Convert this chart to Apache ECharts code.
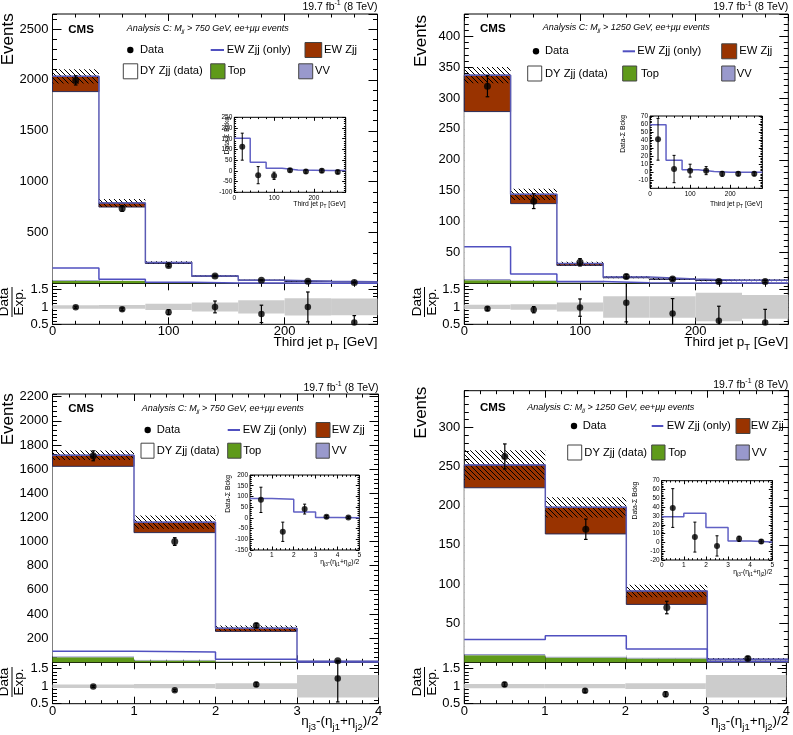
<!DOCTYPE html>
<html>
<head>
<meta charset="utf-8">
<script src="https://cdn.jsdelivr.net/npm/echarts@6.0.0/dist/echarts.min.js"></script>
<style>
html,body{margin:0;padding:0;background:#fff;}
#chart{width:793px;height:735px;}
</style>
</head>
<body>
<div id="chart"></div>
<script>
// ---------------- data ----------------
const ptEdges = [0, 40, 80, 120, 160, 200, 240, 280];
const etaEdges = [0, 1, 2, 3, 4];
const etaInsetEdges = [0, 1, 2, 3, 4, 5];

// Panel A: third jet pT, Mjj > 750 GeV
const aTop = [25, 22, 5, 2, 1, 0.5, 0.3];
const aVV = [8, 5, 2, 1, 0.5, 0.3, 0.2];
const aDY = [1852, 723, 188, 66, 27.5, 18.7, 13.5];
const aEW = [150, 40, 10, 4, 2, 0.5, 1];
const aBkgErr = [70, 40, 12, 6, 3, 3, 3];
const aData = [1995, 735, 176, 73, 30, 20, 8];
const aDataErr = [45, 27, 13, 8.5, 5.5, 4.5, 2.8];
const aRatio = [0.99, 0.93, 0.85, 1.0, 0.8, 1.0, 0.55];
const aRatioErr = [0.03, 0.04, 0.07, 0.17, 0.25, 0.43, 0.2];
const aRatioBand = [0.05, 0.055, 0.09, 0.13, 0.19, 0.25, 0.24];
const aInsEW = [152, 40, 12, 4, 3, 2, 2];
const aInsData = [113, -20, -23, 3, -3, 1, -5];
const aInsErr = [63, 40, 17, 8, 8, 8, 8];

// Panel B: third jet pT, Mjj > 1250 GeV
const bTop = [5, 4, 1, 0.5, 0.3, 0.2, 0.1];
const bVV = [2, 1, 0.5, 0.3, 0.2, 0.1, 0.1];
const bDY = [271, 124, 27.5, 8.2, 6, 4.4, 4.5];
const bEW = [59, 15, 3, 1, 0.5, 0.3, 0.3];
const bBkgErr = [13, 9, 3, 2, 1.5, 1.5, 1.5];
const bData = [319, 133, 34, 11, 7, 3, 3];
const bDataErr = [17, 12, 6, 3.3, 2.6, 1.7, 1.7];
const bRatio = [0.95, 0.92, 0.98, 1.12, 0.81, 0.6, 0.55];
const bRatioErr = [0.05, 0.09, 0.25, 0.55, 0.43, 0.42, 0.38];
const bRatioBand = [0.06, 0.08, 0.13, 0.31, 0.31, 0.41, 0.34];
const bInsEW = [59, 15, 3, 1, 0, 0, 0];
const bInsData = [41, 4, 2, 2, -2, -2, -2];
const bInsErr = [26, 17, 8, 5, 3, 2.5, 2.5];

// Panel C: eta_j3 - (eta_j1+eta_j2)/2, Mjj > 750 GeV
const cTop = [42, 15, 4, 0];
const cVV = [8, 6, 2, 0.2];
const cDY = [1573, 1053, 250, 6.3];
const cEW = [92, 86, 26, 1.5];
const cBkgErr = [40, 55, 22, 3];
const cData = [1710, 1000, 305, 12];
const cDataErr = [41, 32, 17, 3.5];
const cRatio = [0.99, 0.88, 1.05, 1.22];
const cRatioErr = [0.025, 0.03, 0.06, 0.67];
const cRatioBand = [0.05, 0.06, 0.08, 0.32];
const cInsEW = [90, 87, 27, 2, 1];
const cInsData = [84, -65, 41, 5, 2];
const cInsErr = [59, 45, 23, 6, 5];

// Panel D: eta_j3 - (eta_j1+eta_j2)/2, Mjj > 1250 GeV
const dTop = [9, 6, 5, 0];
const dVV = [1.5, 1.5, 1, 0.1];
const dDY = [212.5, 156.5, 68, 2.9];
const dEW = [29, 34, 17, 1];
const dBkgErr = [19, 13, 8, 1.5];
const dData = [263, 170, 70, 5];
const dDataErr = [16, 13, 8, 2.2];
const dRatio = [1.05, 0.87, 0.77, null];
const dRatioErr = [0.06, 0.05, 0.07, null];
const dRatioBand = [0.06, 0.06, 0.08, 0.32];
const dInsEW = [29, 33, 17, 1.5, 0.5];
const dInsData = [39, 6, -4, 4, 1];
const dInsErr = [22, 17, 11.5, 3, 2];

const panels = [
  {edges: ptEdges, top: aTop, vv: aVV, dy: aDY, ew: aEW, bkgErr: aBkgErr, data: aData, dataErr: aDataErr,
   ratio: aRatio, ratioErr: aRatioErr, band: aRatioBand, insEdges: ptEdges, insEW: aInsEW, insData: aInsData, insErr: aInsErr,
   kind: 'pt', mjj: '750'},
  {edges: ptEdges, top: bTop, vv: bVV, dy: bDY, ew: bEW, bkgErr: bBkgErr, data: bData, dataErr: bDataErr,
   ratio: bRatio, ratioErr: bRatioErr, band: bRatioBand, insEdges: ptEdges, insEW: bInsEW, insData: bInsData, insErr: bInsErr,
   kind: 'pt', mjj: '1250'},
  {edges: etaEdges, top: cTop, vv: cVV, dy: cDY, ew: cEW, bkgErr: cBkgErr, data: cData, dataErr: cDataErr,
   ratio: cRatio, ratioErr: cRatioErr, band: cRatioBand, insEdges: etaInsetEdges, insEW: cInsEW, insData: cInsData, insErr: cInsErr,
   kind: 'eta', mjj: '750'},
  {edges: etaEdges, top: dTop, vv: dVV, dy: dDY, ew: dEW, bkgErr: dBkgErr, data: dData, dataErr: dDataErr,
   ratio: dRatio, ratioErr: dRatioErr, band: dRatioBand, insEdges: etaInsetEdges, insEW: dInsEW, insData: dInsData, insErr: dInsErr,
   kind: 'eta', mjj: '1250'}
];

// ---------------- layout (pixels) ----------------
const layouts = [
  {L: 52.5, R: 377.5, T: 14, M: 283.3, B: 324.3, yMax: 2648, yMaj: 500, yMin2: 100, xMax: 280, xMaj: 100, xMin2: 20,
   ins: {l: 234.3, t: 117.3, r: 345.7, b: 192.3, yMin: -100, yMax: 250, yMaj: 50, yMin2: 10, showMinY: true},
   lumiY: 6.7, cms: [68.3, 30], ana: [126.7, 28.3], evX: 8, evTop: 13.3, xTitleY: 342.7, frac: [12, 302],
   insYT: [226.7, 116.7], insXTY: 204.3,
   leg: {r1: 50, r2: 71.3, dot: 130.3, dataT: 140, line: [210.7, 224], ewoT: 226.7, brown: [305, 321.7], ewT: 324,
         white: [123.3, 137.7], dyT: 140, green: [210.7, 225], topT: 227.7, purple: [298.7, 312.7], vvT: 315}},
  {L: 464.3, R: 788.3, T: 14, M: 283.3, B: 324.3, yMax: 436, yMaj: 50, yMin2: 10, xMax: 280, xMaj: 100, xMin2: 20,
   ins: {l: 650, t: 116, r: 762.3, b: 188.3, yMin: -20, yMax: 70, yMaj: 10, yMin2: 2, showMinY: false},
   lumiY: 7.3, cms: [480, 29.3], ana: [542.7, 27.3], evX: 421, evTop: 15, xTitleY: 342.7, frac: [424.5, 302],
   insYT: [622.7, 115], insXTY: 203.7,
   leg: {r1: 51.3, r2: 73.5, dot: 536, dataT: 545, line: [622.7, 635], ewoT: 637.3, brown: [721.7, 736.7], ewT: 739.3,
         white: [527.7, 541.7], dyT: 545, green: [622.7, 636.7], topT: 641, purple: [721.7, 735], vvT: 736.7}},
  {L: 52.5, R: 378.5, T: 394, M: 662.3, B: 703.7, yMax: 2222, yMaj: 200, yMin2: 40, xMax: 4, xMaj: 1, xMin2: 0.2,
   ins: {l: 250, t: 475, r: 359.3, b: 550, yMin: -150, yMax: 200, yMaj: 50, yMin2: 10, showMinY: true},
   lumiY: 388, cms: [68.3, 409.3], ana: [141.7, 408.3], evX: 8, evTop: 393.3, xTitleY: 721.7, frac: [12, 682],
   insYT: [228.3, 475], insXTY: 561.7,
   leg: {r1: 430, r2: 450.7, dot: 147.7, dataT: 156.7, line: [227.7, 240], ewoT: 242.7, brown: [316, 330], ewT: 331.7,
         white: [141, 154], dyT: 156.7, green: [227.7, 241], topT: 243.3, purple: [316, 329.3], vvT: 331.7}},
  {L: 464.3, R: 788.3, T: 390.7, M: 662.3, B: 703.7, yMax: 347, yMaj: 50, yMin2: 10, xMax: 4, xMaj: 1, xMin2: 0.2,
   ins: {l: 661.7, t: 480.7, r: 772.3, b: 560, yMin: -20, yMax: 70, yMaj: 10, yMin2: 2, showMinY: true},
   lumiY: 385, cms: [480, 408.3], ana: [527.3, 407.3], evX: 421, evTop: 386.7, xTitleY: 721.7, frac: [424.5, 682],
   insYT: [635, 481.7], insXTY: 571.7,
   leg: {r1: 426, r2: 452.5, dot: 574, dataT: 582.7, line: [651.7, 663.3], ewoT: 666.7, brown: [736, 750], ewT: 750.7,
         white: [567.7, 581.7], dyT: 584.3, green: [651.7, 665], topT: 668.3, purple: [736, 749.3], vvT: 751.7}}
];

// ---------------- styling ----------------
const FONT = '"Liberation Sans", Arial, Helvetica, sans-serif';
const C_EW = '#993300', C_TOP = '#5f9a1a', C_VV = '#9999cc', C_LINE = '#5050c0', C_OUT = '#5a5ab4', C_BAND = '#cccccc';

const hc = document.createElement('canvas');
hc.width = 5; hc.height = 5;
(function () {
  const g = hc.getContext('2d');
  g.strokeStyle = '#000'; g.lineWidth = 1;
  g.beginPath();
  g.moveTo(0, 0); g.lineTo(5, 5);
  g.moveTo(-5, 0); g.lineTo(5, 10);
  g.moveTo(0, -5); g.lineTo(10, 5);
  g.stroke();
})();
const FILLS = [C_TOP, C_VV, '#ffffff', C_EW, {image: hc, repeat: 'repeat'}, C_BAND];
const STROKES = [null, null, null, '#2a2a55', null, null];

const grids = [], xAxes = [], yAxes = [], series = [], graphics = [];

function numFmt(v) { return String(+(+v).toFixed(6)); }

function addGrid(l, t, w, h) {
  grids.push({left: l, top: t, width: w, height: h, show: true, borderColor: '#000', borderWidth: 1,
              backgroundColor: 'transparent', containLabel: false});
  return grids.length - 1;
}
function axis(gi, pos, r, interval, len, labelCfg) {
  return {
    type: 'value', gridIndex: gi, position: pos, min: r.min, max: r.max, interval: interval,
    axisLine: {show: false, onZero: false}, splitLine: {show: false}, minorTick: {show: false},
    axisTick: {show: true, inside: true, length: len, lineStyle: {color: '#000', width: 1}},
    axisLabel: labelCfg ? Object.assign({show: true, color: '#000', fontFamily: FONT, formatter: numFmt}, labelCfg) : {show: false},
    silent: true
  };
}
function addAxes(gi, xr, yr) {
  const xi = xAxes.length, yi = yAxes.length;
  xAxes.push(axis(gi, 'bottom', xr, xr.maj, xr.lenMaj, xr.label || null));
  xAxes.push(axis(gi, 'bottom', xr, xr.min2, xr.lenMin, null));
  xAxes.push(axis(gi, 'top', xr, xr.maj, xr.lenMaj, null));
  xAxes.push(axis(gi, 'top', xr, xr.min2, xr.lenMin, null));
  yAxes.push(axis(gi, 'left', yr, yr.maj, yr.lenMaj, yr.label || null));
  yAxes.push(axis(gi, 'left', yr, yr.min2, yr.lenMin, null));
  yAxes.push(axis(gi, 'right', yr, yr.maj, yr.lenMaj, null));
  yAxes.push(axis(gi, 'right', yr, yr.min2, yr.lenMin, null));
  return {xi: xi, yi: yi};
}

function rectRender(params, api) {
  const cs = params.coordSys;
  const a = api.coord([api.value(0), api.value(3)]);
  const b = api.coord([api.value(1), api.value(2)]);
  const x0 = Math.max(cs.x, Math.min(a[0], b[0])), x1 = Math.min(cs.x + cs.width, Math.max(a[0], b[0]));
  const y0 = Math.max(cs.y, Math.min(a[1], b[1])), y1 = Math.min(cs.y + cs.height, Math.max(a[1], b[1]));
  if (y1 <= y0 || x1 <= x0) return null;
  const ci = api.value(4);
  const st = {fill: FILLS[ci]};
  if (STROKES[ci]) { st.stroke = STROKES[ci]; st.lineWidth = 1; }
  return {type: 'rect', shape: {x: x0, y: y0, width: x1 - x0, height: y1 - y0}, style: st};
}
function errRender(cap, lw) {
  return function (params, api) {
    const cs = params.coordSys;
    const pl = api.coord([api.value(0), api.value(1)]);
    const ph = api.coord([api.value(0), api.value(2)]);
    const x = pl[0], top = cs.y, bot = cs.y + cs.height;
    const ya = Math.max(top, Math.min(bot, ph[1])), yb = Math.max(top, Math.min(bot, pl[1]));
    const ch = [];
    if (yb > ya) ch.push({type: 'line', shape: {x1: x, y1: ya, x2: x, y2: yb}, style: {stroke: '#000', lineWidth: lw}});
    [ph[1], pl[1]].forEach(function (yy) {
      if (yy > top + 0.5 && yy < bot - 0.5) ch.push({type: 'line', shape: {x1: x - cap, y1: yy, x2: x + cap, y2: yy}, style: {stroke: '#000', lineWidth: lw}});
    });
    return {type: 'group', children: ch};
  };
}
function stepData(edges, vals) {
  const d = vals.map(function (v, i) { return [edges[i], v]; });
  d.push([edges[vals.length], vals[vals.length - 1]]);
  return d;
}
function centers(edges, n) {
  const c = [];
  for (let i = 0; i < n; i++) c.push((edges[i] + edges[i + 1]) / 2);
  return c;
}

// ---------------- text helpers ----------------
const mctx = document.createElement('canvas').getContext('2d');
function fontStr(size, style) { return (style || 'normal') + ' ' + size + 'px ' + FONT; }
function segText(x, y, segs, align, style) {
  const ws = segs.map(function (s) { mctx.font = fontStr(s.s, style); return mctx.measureText(s.t).width; });
  const tot = ws.reduce(function (a, b) { return a + b; }, 0);
  let cx = align === 'right' ? x - tot : (align === 'center' ? x - tot / 2 : x);
  return segs.map(function (s, i) {
    const el = {type: 'text', x: cx, y: y + (s.dy || 0), silent: true, z: 100,
      style: {text: s.t, font: fontStr(s.s, style), fill: '#000', align: 'left', verticalAlign: 'middle'}};
    cx += ws[i];
    return el;
  });
}
function txt(x, y, t, size, style, align) {
  return {type: 'text', x: x, y: y, silent: true, z: 100,
    style: {text: t, font: fontStr(size, style), fill: '#000', align: align || 'left', verticalAlign: 'middle'}};
}
function vtxt(x, y, t, size) {
  return {type: 'text', x: x, y: y, rotation: Math.PI / 2, silent: true, z: 100,
    style: {text: t, font: fontStr(size), fill: '#000', align: 'right', verticalAlign: 'middle'}};
}
function box(xr, yc, fill) {
  return {type: 'rect', silent: true, z: 100, shape: {x: xr[0], y: yc - 7.5, width: xr[1] - xr[0], height: 15},
    style: {fill: fill, stroke: '#444', lineWidth: 1}};
}
function ptTitle(x, y, s, sub, dy) {
  return segText(x, y, [{t: 'Third jet p', s: s}, {t: 'T', s: sub, dy: dy}, {t: ' [GeV]', s: s}], 'right');
}
function etaTitle(x, y, s, sub, dy) {
  return segText(x, y, [{t: '\u03b7', s: s}, {t: 'j3', s: sub, dy: dy}, {t: '-(\u03b7', s: s}, {t: 'j1', s: sub, dy: dy},
    {t: '+\u03b7', s: s}, {t: 'j2', s: sub, dy: dy}, {t: ')/2', s: s}], 'right');
}

// ---------------- build panels ----------------
panels.forEach(function (p, k) {
  const lay = layouts[k];
  const n = p.top.length;
  const xr = {min: 0, max: lay.xMax, maj: lay.xMaj, min2: lay.xMin2, lenMaj: 7, lenMin: 3.5};
  const showMaxX = p.kind === 'eta';

  // main
  const gMain = addGrid(lay.L, lay.T, lay.R - lay.L, lay.M - lay.T);
  const axM = addAxes(gMain, xr, {min: 0, max: lay.yMax, maj: lay.yMaj, min2: lay.yMin2, lenMaj: 9, lenMin: 4.5,
    label: {fontSize: 13, margin: 4, showMinLabel: false, showMaxLabel: false}});
  // ratio
  const gRat = addGrid(lay.L, lay.M, lay.R - lay.L, lay.B - lay.M);
  const axR = addAxes(gRat, Object.assign({}, xr, {label: {fontSize: 13, margin: 1, showMinLabel: true, showMaxLabel: showMaxX}}),
    {min: 0.5, max: 1.68, maj: 0.5, min2: 0.1, lenMaj: 9, lenMin: 4.5,
     label: {fontSize: 13, margin: 4, showMinLabel: true, showMaxLabel: false}});
  // inset
  const ins = lay.ins;
  const gIns = addGrid(ins.l, ins.t, ins.r - ins.l, ins.b - ins.t);
  const axI = addAxes(gIns,
    {min: 0, max: p.insEdges[p.insEdges.length - 1], maj: p.kind === 'pt' ? 100 : 1, min2: p.kind === 'pt' ? 20 : 0.2,
     lenMaj: 3.5, lenMin: 1.8, label: {fontSize: 6.5, margin: 2, showMinLabel: true, showMaxLabel: showMaxX}},
    {min: ins.yMin, max: ins.yMax, maj: ins.yMaj, min2: ins.yMin2, lenMaj: 3.5, lenMin: 1.8,
     label: {fontSize: 6.5, margin: 2, showMinLabel: ins.showMinY, showMaxLabel: true}});

  // stacked histogram rectangles: Top, VV, DY, EW
  const rects = [], hatch = [], total = [];
  for (let i = 0; i < n; i++) {
    let y = 0;
    [p.top[i], p.vv[i], p.dy[i], p.ew[i]].forEach(function (v, ci) {
      rects.push([p.edges[i], p.edges[i + 1], y, y + v, ci]);
      y += v;
    });
    total.push(y);
    hatch.push([p.edges[i], p.edges[i + 1], y - p.bkgErr[i], y + p.bkgErr[i], 4]);
  }
  const base = {silent: true, animation: false};
  series.push(Object.assign({type: 'custom', xAxisIndex: axM.xi, yAxisIndex: axM.yi, data: rects,
    encode: {x: [0, 1], y: [2, 3]}, renderItem: rectRender, z: 2}, base));
  series.push(Object.assign({type: 'custom', xAxisIndex: axM.xi, yAxisIndex: axM.yi, data: hatch,
    encode: {x: [0, 1], y: [2, 3]}, renderItem: rectRender, z: 3}, base));
  series.push(Object.assign({type: 'line', step: 'end', xAxisIndex: axM.xi, yAxisIndex: axM.yi, data: stepData(p.edges, total),
    symbol: 'none', lineStyle: {color: C_OUT, width: 1.5}, z: 4}, base));
  series.push(Object.assign({type: 'line', step: 'end', xAxisIndex: axM.xi, yAxisIndex: axM.yi, data: stepData(p.edges, p.ew),
    symbol: 'none', lineStyle: {color: C_LINE, width: 1.5}, z: 4}, base));
  const cx = centers(p.edges, n);
  series.push(Object.assign({type: 'custom', xAxisIndex: axM.xi, yAxisIndex: axM.yi,
    data: cx.map(function (x, i) { return [x, p.data[i] - p.dataErr[i], p.data[i] + p.dataErr[i]]; }),
    encode: {x: 0, y: [1, 2]}, renderItem: errRender(1.8, 1.2), z: 5}, base));
  series.push(Object.assign({type: 'scatter', xAxisIndex: axM.xi, yAxisIndex: axM.yi,
    data: cx.map(function (x, i) { return [x, p.data[i]]; }), symbol: 'circle', symbolSize: 7,
    itemStyle: {color: '#000'}, z: 6}, base));

  // ratio panel
  series.push(Object.assign({type: 'custom', xAxisIndex: axR.xi, yAxisIndex: axR.yi,
    data: p.band.map(function (b, i) { return [p.edges[i], p.edges[i + 1], 1 - b, 1 + b, 5]; }),
    encode: {x: [0, 1], y: [2, 3]}, renderItem: rectRender, z: 2}, base));
  const rIdx = [];
  for (let i = 0; i < n; i++) if (p.ratio[i] !== null) rIdx.push(i);
  series.push(Object.assign({type: 'custom', xAxisIndex: axR.xi, yAxisIndex: axR.yi,
    data: rIdx.map(function (i) { return [cx[i], p.ratio[i] - p.ratioErr[i], p.ratio[i] + p.ratioErr[i]]; }),
    encode: {x: 0, y: [1, 2]}, renderItem: errRender(1.8, 1.2), z: 5}, base));
  series.push(Object.assign({type: 'scatter', xAxisIndex: axR.xi, yAxisIndex: axR.yi,
    data: rIdx.map(function (i) { return [cx[i], p.ratio[i]]; }), symbol: 'circle', symbolSize: 6.5,
    itemStyle: {color: '#000'}, z: 6}, base));

  // inset
  const ni = p.insEW.length;
  const icx = centers(p.insEdges, ni);
  series.push(Object.assign({type: 'line', step: 'end', xAxisIndex: axI.xi, yAxisIndex: axI.yi, data: stepData(p.insEdges, p.insEW),
    symbol: 'none', lineStyle: {color: '#6060c4', width: 1.5}, z: 4}, base));
  series.push(Object.assign({type: 'custom', xAxisIndex: axI.xi, yAxisIndex: axI.yi,
    data: icx.map(function (x, i) { return [x, p.insData[i] - p.insErr[i], p.insData[i] + p.insErr[i]]; }),
    encode: {x: 0, y: [1, 2]}, renderItem: errRender(1.5, 1), z: 5}, base));
  series.push(Object.assign({type: 'scatter', xAxisIndex: axI.xi, yAxisIndex: axI.yi,
    data: icx.map(function (x, i) { return [x, p.insData[i]]; }), symbol: 'circle', symbolSize: 6,
    itemStyle: {color: '#000'}, z: 6}, base));

  // ---- texts ----
  segText(lay.R, lay.lumiY, [{t: '19.7 fb', s: 10.5}, {t: '-1', s: 7, dy: -3.5}, {t: ' (8 TeV)', s: 10.5}], 'right')
    .forEach(function (e) { graphics.push(e); });
  graphics.push(txt(lay.cms[0], lay.cms[1], 'CMS', 11.5, 'bold'));
  segText(lay.ana[0], lay.ana[1], [{t: 'Analysis C: M', s: 9}, {t: 'jj', s: 6, dy: 3.5},
    {t: ' > ' + p.mjj + ' GeV, ee+\u03bc\u03bc events', s: 9}], 'left', 'italic').forEach(function (e) { graphics.push(e); });
  graphics.push(vtxt(lay.evX, lay.evTop, 'Events', 17));
  // Data / Exp. fraction
  graphics.push({type: 'group', x: lay.frac[0], y: lay.frac[1], rotation: Math.PI / 2, silent: true, z: 100, children: [
    {type: 'text', x: 0, y: -0.5, style: {text: 'Data', font: fontStr(13.5), fill: '#000', align: 'center', verticalAlign: 'bottom'}},
    {type: 'line', shape: {x1: -15, y1: 0, x2: 15, y2: 0}, style: {stroke: '#000', lineWidth: 1}},
    {type: 'text', x: 0, y: 0.5, style: {text: 'Exp.', font: fontStr(13.5), fill: '#000', align: 'center', verticalAlign: 'top'}}
  ]});
  // axis titles
  const xt = p.kind === 'pt' ? ptTitle(lay.R, lay.xTitleY, 13.5, 9.5, 5) : etaTitle(lay.R, lay.xTitleY, 13.5, 9.5, 5.5);
  xt.forEach(function (e) { graphics.push(e); });
  graphics.push(vtxt(lay.insYT[0], lay.insYT[1], 'Data-\u03a3 Bckg', 6.8));
  const ixt = p.kind === 'pt' ? ptTitle(ins.r, lay.insXTY, 6.8, 4.8, 2.5) : etaTitle(ins.r, lay.insXTY, 6.8, 4.8, 2.8);
  ixt.forEach(function (e) { graphics.push(e); });

  // legend
  const lg = lay.leg;
  graphics.push({type: 'circle', silent: true, z: 100, shape: {cx: lg.dot, cy: lg.r1, r: 3.2}, style: {fill: '#000'}});
  graphics.push(txt(lg.dataT, lg.r1, 'Data', 11.2));
  graphics.push({type: 'line', silent: true, z: 100, shape: {x1: lg.line[0], y1: lg.r1, x2: lg.line[1], y2: lg.r1},
    style: {stroke: C_LINE, lineWidth: 2}});
  graphics.push(txt(lg.ewoT, lg.r1, 'EW Zjj (only)', 11.2));
  graphics.push(box(lg.brown, lg.r1, C_EW));
  graphics.push(txt(lg.ewT, lg.r1, 'EW Zjj', 11.2));
  graphics.push(box(lg.white, lg.r2, '#ffffff'));
  graphics.push(txt(lg.dyT, lg.r2, 'DY Zjj (data)', 11.2));
  graphics.push(box(lg.green, lg.r2, C_TOP));
  graphics.push(txt(lg.topT, lg.r2, 'Top', 11.2));
  graphics.push(box(lg.purple, lg.r2, C_VV));
  graphics.push(txt(lg.vvT, lg.r2, 'VV', 11.2));
});

const chart = echarts.init(document.getElementById('chart'), null, {renderer: 'canvas'});
chart.setOption({
  animation: false,
  backgroundColor: '#ffffff',
  grid: grids,
  xAxis: xAxes,
  yAxis: yAxes,
  series: series,
  graphic: {elements: graphics}
});
</script>
</body>
</html>
